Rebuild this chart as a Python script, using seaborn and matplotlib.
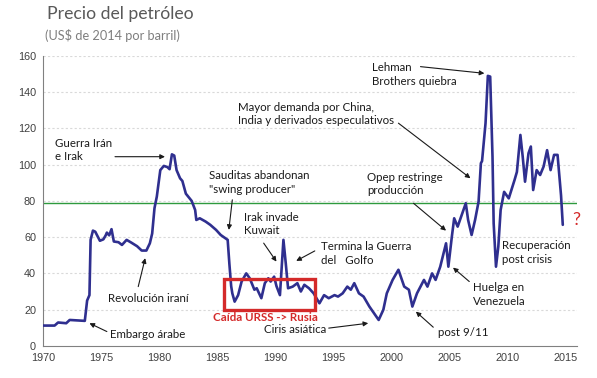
import matplotlib as mpl
import matplotlib.pyplot as plt
import seaborn as sns
import pandas as pd
from matplotlib.patches import Rectangle

# precio del petroleo, US$ de 2014 por barril
years = [1970.0, 1971.0, 1971.3, 1972.0, 1972.3, 1973.0, 1973.6, 1973.8, 1974.0, 1974.1,
         1974.3, 1974.5, 1974.9, 1975.2, 1975.4, 1975.5, 1975.7, 1975.9, 1976.1, 1976.5,
         1976.8, 1977.2, 1977.6, 1978.1, 1978.5, 1978.9, 1979.2, 1979.4, 1979.6, 1979.8,
         1980.1, 1980.4, 1980.7, 1980.9, 1981.1, 1981.3, 1981.5, 1981.8, 1982.0, 1982.3,
         1982.5, 1982.8, 1983.1, 1983.2, 1983.5, 1984.0, 1984.4, 1984.9, 1985.3, 1985.7,
         1985.9, 1986.05, 1986.2, 1986.3, 1986.5, 1986.8, 1987.1, 1987.5, 1987.8, 1988.2,
         1988.4, 1988.8, 1989.1, 1989.4, 1989.6, 1989.9, 1990.1, 1990.4, 1990.7, 1990.9,
         1991.1, 1991.5, 1991.9, 1992.2, 1992.5, 1992.9, 1993.3, 1993.8, 1994.2, 1994.6,
         1995.1, 1995.4, 1995.8, 1996.2, 1996.5, 1996.8, 1997.2, 1997.6, 1998.1, 1998.5,
         1998.9, 1999.3, 1999.6, 2000.1, 2000.6, 2001.1, 2001.5, 2001.8, 2002.2, 2002.8,
         2003.1, 2003.5, 2003.8, 2004.2, 2004.7, 2004.9, 2005.2, 2005.4, 2005.7, 2006.0,
         2006.4, 2006.6, 2006.9, 2007.2, 2007.5, 2007.7, 2007.8, 2008.1, 2008.3, 2008.5,
         2008.7, 2008.8, 2009.0, 2009.2, 2009.4, 2009.7, 2010.1, 2010.6, 2010.8, 2011.1,
         2011.3, 2011.5, 2011.8, 2012.0, 2012.2, 2012.5, 2012.8, 2013.1, 2013.4, 2013.7,
         2014.0, 2014.3, 2014.6, 2014.75]
prices = [11.2, 11.2, 12.9, 12.5, 14.3, 14.0, 13.8, 25.0, 28.0, 58.5,
          63.6, 63.0, 58.0, 58.8, 61.0, 62.5, 61.0, 64.4, 57.6, 57.2,
          55.7, 58.5, 57.0, 55.0, 52.6, 52.6, 56.6, 62.0, 76.0, 82.4,
          97.0, 99.3, 98.7, 97.5, 105.7, 105.0, 97.0, 92.5, 91.0, 84.0,
          82.4, 80.0, 75.0, 69.5, 70.4, 68.6, 66.8, 64.0, 61.2, 59.4,
          58.5, 45.0, 33.0, 29.0, 24.4, 28.0, 35.5, 40.0, 37.3, 31.0,
          31.8, 26.3, 34.6, 37.3, 35.5, 38.2, 33.0, 28.0, 58.5, 45.6,
          31.8, 32.7, 34.6, 30.0, 33.7, 31.8, 29.0, 23.5, 28.0, 26.3,
          28.0, 27.2, 29.0, 32.7, 31.0, 34.6, 29.0, 27.2, 21.7, 18.0,
          14.3, 19.9, 29.0, 36.4, 42.0, 32.7, 31.0, 21.7, 29.0, 36.4,
          32.7, 40.0, 36.4, 43.7, 56.6, 43.7, 60.3, 70.4, 65.8, 71.3,
          78.7, 69.5, 61.2, 69.5, 79.6, 100.8, 102.0, 122.9, 149.0, 148.6,
          104.4, 67.6, 43.7, 54.8, 75.0, 85.0, 81.4, 91.6, 96.0, 116.4,
          104.4, 90.6, 106.3, 110.0, 86.0, 97.0, 94.3, 99.0, 108.0, 97.0,
          105.4, 105.4, 83.0, 66.8]

ref_level = 79
x_ticks = list(range(1970, 2016, 5))
y_ticks = list(range(0, 161, 20))

# (texto, posicion x, posicion y) para las notas
notes = [
    ("Guerra Irán\ne Irak", 1971.0, 108.1),
    ("Embargo árabe", 1975.8, 6.1),
    ("Revolución iraní", 1975.6, 26.3),
    ("Sauditas abandonan\n\"swing producer\"", 1984.3, 90.2),
    ("Irak invade\nKuwait", 1987.3, 67.3),
    ("Termina la Guerra\ndel   Golfo", 1993.9, 50.8),
    ("Ciris asiática", 1989.0, 8.8),
    ("post 9/11", 2004.0, 7.2),
    ("Huelga en\nVenezuela", 2007.0, 28.2),
    ("Opep restringe\nproducción", 1997.9, 89.4),
    ("Recuperación\npost crisis", 2009.5, 51.6),
    ("Mayor demanda por China,\nIndia y derivados especulativos", 1986.8, 128.0),
    ("Lehman\nBrothers quiebra", 1998.3, 149.7),
]
# flechas: (desde, hasta)
arrows = [
    ((1976.2, 104.4), (1980.5, 104.4)),
    ((1975.5, 7.9), (1974.0, 12.5)),
    ((1978.2, 32.7), (1978.8, 48.4)),
    ((1986.3, 80.6), (1986.0, 64.0)),
    ((1989.0, 56.7), (1990.1, 46.5)),
    ((1993.4, 52.4), (1991.8, 46.9)),
    ((1994.6, 9.8), (1998.0, 12.5)),
    ((2003.6, 10.3), (2002.1, 18.9)),
    ((2006.7, 35.5), (2005.3, 43.2)),
    ((2001.9, 78.7), (2004.7, 63.6)),
    ((2000.6, 122.9), (2006.8, 92.5)),
    ((2002.5, 154.1), (2008.0, 150.4)),
]

df = pd.DataFrame({"year": years, "price": prices})

sns.set_style("white")
plt.rcParams["font.family"] = ["Lato", "DejaVu Sans"]

fig = plt.figure(figsize=(5.97, 3.78), dpi=100)
ax = fig.add_axes([0.072, 0.085, 0.895, 0.767])

for v in y_ticks[1:]:
    ax.axhline(v, color="#d9d9d9", lw=0.8, ls=(0, (2, 2)), zorder=0)
ax.axhline(ref_level, color="#2e9a3e", lw=1.0, zorder=1)

sns.lineplot(data=df, x="year", y="price", ax=ax, color="#2f2f8f", lw=1.9, zorder=3)

ax.set_xlim(1970, 2016)
ax.set_ylim(0, 160)
ax.set_xticks(x_ticks)
ax.set_yticks(y_ticks)
ax.set_xlabel("")
ax.set_ylabel("")
for lab in ax.get_xticklabels() + ax.get_yticklabels():
    lab.set_family(["Liberation Sans", "DejaVu Sans"])
ax.tick_params(axis="both", labelsize=7.8, colors="#404040", length=3, width=0.8, direction="out")
ax.tick_params(axis="x", pad=2)
ax.tick_params(axis="y", pad=2)
for side in ["top", "right"]:
    ax.spines[side].set_visible(False)
for side in ["left", "bottom"]:
    ax.spines[side].set_color("#808080")
    ax.spines[side].set_linewidth(0.8)

for txt, x, y in notes:
    ax.text(x, y, txt, fontsize=8.3, color="#1a1a1a", ha="left", va="center", linespacing=1.3)
for a, b in arrows:
    ax.annotate("", xy=b, xytext=a,
                arrowprops=dict(arrowstyle="-|>", color="#1a1a1a", lw=0.8, mutation_scale=7,
                                shrinkA=0, shrinkB=0))

ax.add_patch(Rectangle((1985.6, 19.9), 7.84, 16.9, fill=False, ec="#d42a2a", lw=2.4, zorder=4))
ax.text(1984.6, 15.8, "Caída URSS -> Rusia", fontsize=8.3, color="#d42a2a", fontweight="bold",
        ha="left", va="center")
ax.text(2015.6, 69.5, "?", fontsize=13, color="#d42a2a", ha="left", va="center")

fig.text(0.079, 0.962, "Precio del petróleo", fontsize=12.7, color="#595959", ha="left", va="center")
fig.text(0.075, 0.905, "(US$ de 2014 por barril)", fontsize=9.2, color="#7f7f7f", ha="left", va="center")

fig.savefig("out.png", dpi=100)
